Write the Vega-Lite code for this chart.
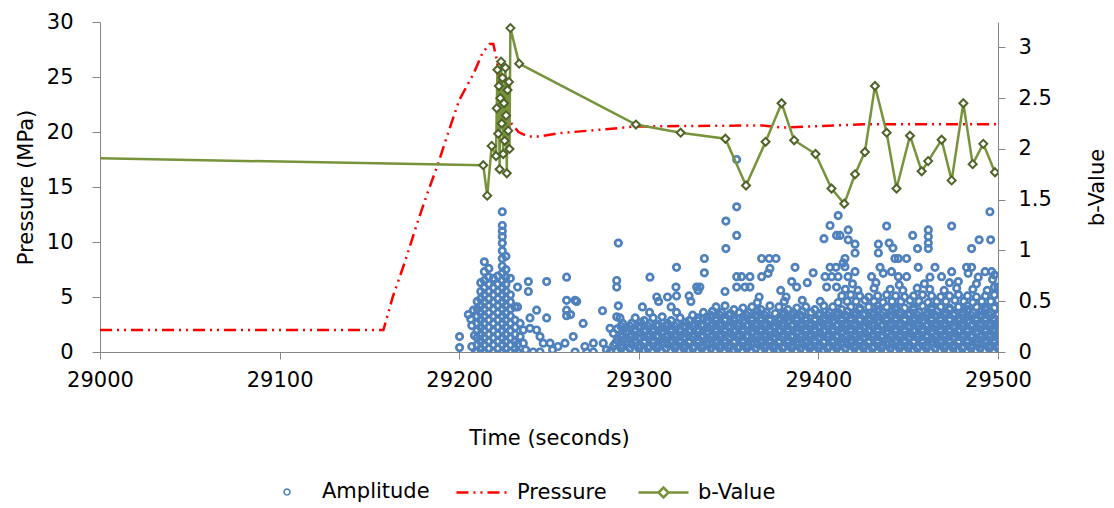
{
"$schema":"https://vega.github.io/schema/vega-lite/v6.json",
"width":898,"height":330,
"autosize":{"type":"none"},
"padding":{"left":100,"top":22,"right":116,"bottom":156},
"background":"white",
"config":{"view":{"stroke":null},"font":"DejaVu Sans",
"axis":{"grid":false,"domainColor":"#868686","tickColor":"#868686","labelColor":"#000000","titleColor":"#000000","labelFontSize":21,"titleFontSize":21,"titleFontWeight":"normal","labelFont":"DejaVu Sans","titleFont":"DejaVu Sans","labelFlush":false,"labelOverlap":false},
"legend":{"labelFontSize":21,"labelFont":"DejaVu Sans","labelColor":"#000000","symbolSize":2500,"labelLimit":0,"direction":"horizontal","orient":"none"}},
"datasets":{
"amp":[
{"t":29200.2,"a":1.4},{"t":29200.2,"a":0.4},{"t":29205.1,"a":3.4},{"t":29206.4,"a":3.0},{"t":29207,"a":2.4},{"t":29207,"a":0.5},{"t":29207.9,"a":3.8},{"t":29208.5,"a":1.5},{"t":29209,"a":0},
{"t":29210,"a":0},{"t":29210,"a":0.65},{"t":29210,"a":1.3},{"t":29210,"a":1.95},{"t":29210,"a":2.6},{"t":29210,"a":3.25},{"t":29210,"a":3.9},{"t":29210,"a":4.6},
{"t":29212,"a":0.3},{"t":29212,"a":0.95},{"t":29212,"a":1.6},{"t":29212,"a":2.25},{"t":29212,"a":2.9},{"t":29212,"a":3.55},{"t":29212,"a":4.2},{"t":29212,"a":4.85},{"t":29212,"a":5.5},{"t":29212,"a":6.3},
{"t":29214,"a":0},{"t":29214,"a":0.65},{"t":29214,"a":1.3},{"t":29214,"a":1.95},{"t":29214,"a":2.6},{"t":29214,"a":3.25},{"t":29214,"a":3.9},{"t":29214,"a":4.55},{"t":29214,"a":5.2},{"t":29214,"a":5.85},{"t":29214,"a":6.5},{"t":29214,"a":7.3},{"t":29214,"a":8.2},
{"t":29216.5,"a":0.3},{"t":29216.5,"a":0.95},{"t":29216.5,"a":1.6},{"t":29216.5,"a":2.25},{"t":29216.5,"a":2.9},{"t":29216.5,"a":3.55},{"t":29216.5,"a":4.2},{"t":29216.5,"a":4.85},{"t":29216.5,"a":5.5},{"t":29216.5,"a":6.15},{"t":29216.5,"a":6.8},{"t":29216.5,"a":7.6},
{"t":29219,"a":0},{"t":29219,"a":0.65},{"t":29219,"a":1.3},{"t":29219,"a":1.95},{"t":29219,"a":2.6},{"t":29219,"a":3.25},{"t":29219,"a":3.9},{"t":29219,"a":4.55},{"t":29219,"a":5.2},{"t":29219,"a":5.85},{"t":29219,"a":6.7},
{"t":29221.5,"a":0.3},{"t":29221.5,"a":0.95},{"t":29221.5,"a":1.6},{"t":29221.5,"a":2.25},{"t":29221.5,"a":2.9},{"t":29221.5,"a":3.55},{"t":29221.5,"a":4.2},{"t":29221.5,"a":4.85},{"t":29221.5,"a":5.5},{"t":29221.5,"a":6.15},{"t":29221.5,"a":6.9},
{"t":29224,"a":0},{"t":29224,"a":0.65},{"t":29224,"a":1.3},{"t":29224,"a":1.95},{"t":29224,"a":2.6},{"t":29224,"a":3.25},{"t":29224,"a":3.9},{"t":29224,"a":4.55},{"t":29224,"a":5.2},{"t":29224,"a":5.85},{"t":29224,"a":6.5},{"t":29224,"a":7.15},{"t":29224,"a":7.8},{"t":29224,"a":8.5},{"t":29224,"a":9.2},{"t":29224,"a":9.9},{"t":29224,"a":10.5},{"t":29224,"a":11.0},{"t":29224,"a":11.5},{"t":29224,"a":12.75},
{"t":29226,"a":0.3},{"t":29226,"a":0.95},{"t":29226,"a":1.6},{"t":29226,"a":2.25},{"t":29226,"a":2.9},{"t":29226,"a":3.55},{"t":29226,"a":4.2},{"t":29226,"a":4.85},{"t":29226,"a":5.5},{"t":29226,"a":6.15},{"t":29226,"a":6.8},{"t":29226,"a":7.5},{"t":29226,"a":8.7},
{"t":29228.5,"a":0},{"t":29228.5,"a":0.65},{"t":29228.5,"a":1.3},{"t":29228.5,"a":1.95},{"t":29228.5,"a":2.6},{"t":29228.5,"a":3.25},{"t":29228.5,"a":3.9},{"t":29228.5,"a":4.55},{"t":29228.5,"a":5.2},{"t":29228.5,"a":6.7},
{"t":29231,"a":0.3},{"t":29231,"a":0.95},{"t":29231,"a":1.6},{"t":29231,"a":2.25},{"t":29231,"a":2.9},{"t":29231,"a":4.1},
{"t":29232.5,"a":0},{"t":29232.5,"a":0.7},{"t":29232.5,"a":5.9},{"t":29232.5,"a":4.1},
{"t":29233.9,"a":2.6},{"t":29233.9,"a":1.4},{"t":29235.7,"a":2.0},{"t":29235.7,"a":0.8},{"t":29237,"a":0.2},{"t":29239.4,"a":3.1},{"t":29239.4,"a":2.15},{"t":29238.5,"a":6.4},{"t":29238.5,"a":5.5},{"t":29241.2,"a":0},{"t":29243.1,"a":3.8},{"t":29243.1,"a":2.0},{"t":29245,"a":1.4},{"t":29245,"a":0},{"t":29246.8,"a":0.8},{"t":29248.7,"a":6.4},{"t":29248.7,"a":3.1},{"t":29250.6,"a":0.8},{"t":29252,"a":0.2},{"t":29255,"a":0.5},{"t":29258.9,"a":0.8},{"t":29259.8,"a":6.8},{"t":29259.8,"a":4.7},{"t":29259.8,"a":3.8},{"t":29259.8,"a":3.3},{"t":29262,"a":3.4},{"t":29263.5,"a":1.4},{"t":29264.5,"a":4.7},{"t":29264.5,"a":0},{"t":29265.4,"a":4.6},{"t":29269,"a":2.6},{"t":29270,"a":0.5},{"t":29271,"a":0},{"t":29274.7,"a":0.8},{"t":29274.7,"a":0},{"t":29279.8,"a":3.75},{"t":29280.2,"a":0.8},{"t":29282,"a":0.2},{"t":29284,"a":0},{"t":29284,"a":2.15},{"t":29285.8,"a":1.7},{"t":29286,"a":0.6},{"t":29287,"a":0.8},{"t":29287.7,"a":6.5},{"t":29287.7,"a":5.9},{"t":29288.6,"a":9.9},{"t":29288.6,"a":4.2},{"t":29287.7,"a":3.2},{"t":29289.5,"a":3.1},
{"t":29288,"a":0.1},{"t":29293,"a":0},{"t":29298,"a":0.1},{"t":29303,"a":0.2},{"t":29308,"a":0.1},{"t":29313,"a":0},{"t":29318,"a":0.1},{"t":29323,"a":0.1},{"t":29328,"a":0.2},{"t":29333,"a":0},{"t":29338,"a":0.1},{"t":29343,"a":0.1},{"t":29348,"a":0},{"t":29353,"a":0.2},{"t":29358,"a":0.1},{"t":29363,"a":0},{"t":29368,"a":0.1},{"t":29373,"a":0.1},{"t":29378,"a":0.2},{"t":29383,"a":0},{"t":29388,"a":0.1},{"t":29393,"a":0.1},{"t":29398,"a":0},{"t":29403,"a":0.2},{"t":29408,"a":0.1},{"t":29413,"a":0},{"t":29418,"a":0.1},{"t":29423,"a":0.1},{"t":29428,"a":0.2},{"t":29433,"a":0},{"t":29438,"a":0.1},{"t":29443,"a":0.1},{"t":29448,"a":0},{"t":29453,"a":0.2},{"t":29458,"a":0.1},{"t":29463,"a":0},{"t":29468,"a":0.1},{"t":29473,"a":0.1},{"t":29478,"a":0.2},{"t":29483,"a":0},{"t":29488,"a":0.1},{"t":29493,"a":0.1},{"t":29498,"a":0},
{"t":29290,"a":0.35},{"t":29295,"a":0.35},{"t":29300,"a":0.35},{"t":29305,"a":0.35},{"t":29310,"a":0.35},{"t":29315,"a":0.35},{"t":29320,"a":0.35},{"t":29325,"a":0.35},{"t":29330,"a":0.35},{"t":29335,"a":0.35},{"t":29340,"a":0.35},{"t":29345,"a":0.35},{"t":29350,"a":0.35},{"t":29355,"a":0.35},{"t":29360,"a":0.35},{"t":29365,"a":0.35},{"t":29370,"a":0.35},{"t":29375,"a":0.35},{"t":29380,"a":0.35},{"t":29385,"a":0.35},{"t":29390,"a":0.35},{"t":29395,"a":0.35},{"t":29400,"a":0.35},{"t":29405,"a":0.35},{"t":29410,"a":0.35},{"t":29415,"a":0.35},{"t":29420,"a":0.35},{"t":29425,"a":0.35},{"t":29430,"a":0.35},{"t":29435,"a":0.35},{"t":29440,"a":0.35},{"t":29445,"a":0.35},{"t":29450,"a":0.35},{"t":29455,"a":0.35},{"t":29460,"a":0.35},{"t":29465,"a":0.35},{"t":29470,"a":0.35},{"t":29475,"a":0.35},{"t":29480,"a":0.35},{"t":29485,"a":0.35},{"t":29490,"a":0.35},{"t":29495,"a":0.35},{"t":29500,"a":0.35},
{"t":29291,"a":0.6},{"t":29296,"a":0.7},{"t":29301,"a":0.6},{"t":29306,"a":0.5},{"t":29311,"a":0.6},{"t":29316,"a":0.7},{"t":29321,"a":0.6},{"t":29326,"a":0.6},{"t":29331,"a":0.5},{"t":29336,"a":0.6},{"t":29341,"a":0.7},{"t":29346,"a":0.6},{"t":29351,"a":0.6},{"t":29356,"a":0.5},{"t":29361,"a":0.6},{"t":29366,"a":0.7},{"t":29371,"a":0.6},{"t":29376,"a":0.6},{"t":29381,"a":0.5},{"t":29386,"a":0.6},{"t":29391,"a":0.7},{"t":29396,"a":0.6},{"t":29401,"a":0.6},{"t":29406,"a":0.5},{"t":29411,"a":0.6},{"t":29416,"a":0.7},{"t":29421,"a":0.6},{"t":29426,"a":0.6},{"t":29431,"a":0.5},{"t":29436,"a":0.6},{"t":29441,"a":0.7},{"t":29446,"a":0.6},{"t":29451,"a":0.6},{"t":29456,"a":0.5},{"t":29461,"a":0.6},{"t":29466,"a":0.7},{"t":29471,"a":0.6},{"t":29476,"a":0.6},{"t":29481,"a":0.5},{"t":29486,"a":0.6},{"t":29491,"a":0.7},{"t":29496,"a":0.6},{"t":29500,"a":0.6},
{"t":29293,"a":0.85},{"t":29298,"a":0.85},{"t":29303,"a":0.85},{"t":29308,"a":0.85},{"t":29313,"a":0.85},{"t":29318,"a":0.85},{"t":29323,"a":0.85},{"t":29328,"a":0.85},{"t":29333,"a":0.85},{"t":29338,"a":0.85},{"t":29343,"a":0.85},{"t":29348,"a":0.85},{"t":29353,"a":0.85},{"t":29358,"a":0.85},{"t":29363,"a":0.85},{"t":29368,"a":0.85},{"t":29373,"a":0.85},{"t":29378,"a":0.85},{"t":29383,"a":0.85},{"t":29388,"a":0.85},{"t":29393,"a":0.85},{"t":29398,"a":0.85},{"t":29403,"a":0.85},{"t":29408,"a":0.85},{"t":29413,"a":0.85},{"t":29418,"a":0.85},{"t":29423,"a":0.85},{"t":29428,"a":0.85},{"t":29433,"a":0.85},{"t":29438,"a":0.85},{"t":29443,"a":0.85},{"t":29448,"a":0.85},{"t":29453,"a":0.85},{"t":29458,"a":0.85},{"t":29463,"a":0.85},{"t":29468,"a":0.85},{"t":29473,"a":0.85},{"t":29478,"a":0.85},{"t":29483,"a":0.85},{"t":29488,"a":0.85},{"t":29493,"a":0.85},{"t":29498,"a":0.85},
{"t":29288,"a":1.1},{"t":29293,"a":1.2},{"t":29298,"a":1.1},{"t":29303,"a":1.0},{"t":29308,"a":1.1},{"t":29313,"a":1.2},{"t":29318,"a":1.1},{"t":29323,"a":1.1},{"t":29328,"a":1.0},{"t":29333,"a":1.1},{"t":29338,"a":1.2},{"t":29343,"a":1.1},{"t":29348,"a":1.1},{"t":29353,"a":1.0},{"t":29358,"a":1.1},{"t":29363,"a":1.2},{"t":29368,"a":1.1},{"t":29373,"a":1.1},{"t":29378,"a":1.0},{"t":29383,"a":1.1},{"t":29388,"a":1.2},{"t":29393,"a":1.1},{"t":29398,"a":1.1},{"t":29403,"a":1.0},{"t":29408,"a":1.1},{"t":29413,"a":1.2},{"t":29418,"a":1.1},{"t":29423,"a":1.1},{"t":29428,"a":1.0},{"t":29433,"a":1.1},{"t":29438,"a":1.2},{"t":29443,"a":1.1},{"t":29448,"a":1.1},{"t":29453,"a":1.0},{"t":29458,"a":1.1},{"t":29463,"a":1.2},{"t":29468,"a":1.1},{"t":29473,"a":1.1},{"t":29478,"a":1.0},{"t":29483,"a":1.1},{"t":29488,"a":1.2},{"t":29493,"a":1.1},{"t":29498,"a":1.1},
{"t":29290,"a":1.35},{"t":29295,"a":1.35},{"t":29300,"a":1.35},{"t":29305,"a":1.35},{"t":29310,"a":1.35},{"t":29315,"a":1.35},{"t":29320,"a":1.35},{"t":29325,"a":1.35},{"t":29330,"a":1.35},{"t":29335,"a":1.35},{"t":29340,"a":1.35},{"t":29345,"a":1.35},{"t":29350,"a":1.35},{"t":29355,"a":1.35},{"t":29360,"a":1.35},{"t":29365,"a":1.35},{"t":29370,"a":1.35},{"t":29375,"a":1.35},{"t":29380,"a":1.35},{"t":29385,"a":1.35},{"t":29390,"a":1.35},{"t":29395,"a":1.35},{"t":29400,"a":1.35},{"t":29405,"a":1.35},{"t":29410,"a":1.35},{"t":29415,"a":1.35},{"t":29420,"a":1.35},{"t":29425,"a":1.35},{"t":29430,"a":1.35},{"t":29435,"a":1.35},{"t":29440,"a":1.35},{"t":29445,"a":1.35},{"t":29450,"a":1.35},{"t":29455,"a":1.35},{"t":29460,"a":1.35},{"t":29465,"a":1.35},{"t":29470,"a":1.35},{"t":29475,"a":1.35},{"t":29480,"a":1.35},{"t":29485,"a":1.35},{"t":29490,"a":1.35},{"t":29495,"a":1.35},{"t":29500,"a":1.35},
{"t":29291,"a":1.6},{"t":29296,"a":1.6},{"t":29301,"a":1.7},{"t":29306,"a":1.6},{"t":29311,"a":1.5},{"t":29316,"a":1.6},{"t":29321,"a":1.6},{"t":29326,"a":1.7},{"t":29331,"a":1.6},{"t":29336,"a":1.5},{"t":29341,"a":1.6},{"t":29346,"a":1.6},{"t":29351,"a":1.7},{"t":29356,"a":1.6},{"t":29361,"a":1.5},{"t":29366,"a":1.6},{"t":29371,"a":1.6},{"t":29376,"a":1.7},{"t":29381,"a":1.6},{"t":29386,"a":1.5},{"t":29391,"a":1.6},{"t":29396,"a":1.6},{"t":29401,"a":1.7},{"t":29406,"a":1.6},{"t":29411,"a":1.5},{"t":29416,"a":1.6},{"t":29421,"a":1.6},{"t":29426,"a":1.7},{"t":29431,"a":1.6},{"t":29436,"a":1.5},{"t":29441,"a":1.6},{"t":29446,"a":1.6},{"t":29451,"a":1.7},{"t":29456,"a":1.6},{"t":29461,"a":1.5},{"t":29466,"a":1.6},{"t":29471,"a":1.6},{"t":29476,"a":1.7},{"t":29481,"a":1.6},{"t":29486,"a":1.5},{"t":29491,"a":1.6},{"t":29496,"a":1.6},{"t":29500,"a":1.7},
{"t":29293,"a":1.85},{"t":29298,"a":1.85},{"t":29303,"a":1.85},{"t":29308,"a":1.85},{"t":29313,"a":1.85},{"t":29318,"a":1.85},{"t":29323,"a":1.85},{"t":29328,"a":1.85},{"t":29333,"a":1.85},{"t":29338,"a":1.85},{"t":29343,"a":1.85},{"t":29348,"a":1.85},{"t":29353,"a":1.85},{"t":29358,"a":1.85},{"t":29363,"a":1.85},{"t":29368,"a":1.85},{"t":29373,"a":1.85},{"t":29378,"a":1.85},{"t":29383,"a":1.85},{"t":29388,"a":1.85},{"t":29393,"a":1.85},{"t":29398,"a":1.85},{"t":29403,"a":1.85},{"t":29408,"a":1.85},{"t":29413,"a":1.85},{"t":29418,"a":1.85},{"t":29423,"a":1.85},{"t":29428,"a":1.85},{"t":29433,"a":1.85},{"t":29438,"a":1.85},{"t":29443,"a":1.85},{"t":29448,"a":1.85},{"t":29453,"a":1.85},{"t":29458,"a":1.85},{"t":29463,"a":1.85},{"t":29468,"a":1.85},{"t":29473,"a":1.85},{"t":29478,"a":1.85},{"t":29483,"a":1.85},{"t":29488,"a":1.85},{"t":29493,"a":1.85},{"t":29498,"a":1.85},
{"t":29288,"a":2.1},{"t":29293,"a":2.2},{"t":29298,"a":2.1},{"t":29303,"a":2.0},{"t":29308,"a":2.1},{"t":29313,"a":2.2},{"t":29318,"a":2.1},{"t":29323,"a":2.1},{"t":29328,"a":2.0},{"t":29333,"a":2.1},{"t":29338,"a":2.2},{"t":29343,"a":2.1},{"t":29348,"a":2.1},{"t":29353,"a":2.0},{"t":29358,"a":2.1},{"t":29363,"a":2.2},{"t":29368,"a":2.1},{"t":29373,"a":2.1},{"t":29378,"a":2.0},{"t":29383,"a":2.1},{"t":29388,"a":2.2},{"t":29393,"a":2.1},{"t":29398,"a":2.1},{"t":29403,"a":2.0},{"t":29408,"a":2.1},{"t":29413,"a":2.2},{"t":29418,"a":2.1},{"t":29423,"a":2.1},{"t":29428,"a":2.0},{"t":29433,"a":2.1},{"t":29438,"a":2.2},{"t":29443,"a":2.1},{"t":29448,"a":2.1},{"t":29453,"a":2.0},{"t":29458,"a":2.1},{"t":29463,"a":2.2},{"t":29468,"a":2.1},{"t":29473,"a":2.1},{"t":29478,"a":2.0},{"t":29483,"a":2.1},{"t":29488,"a":2.2},{"t":29493,"a":2.1},{"t":29498,"a":2.1},
{"t":29290,"a":2.35},{"t":29295,"a":2.35},{"t":29300,"a":2.35},{"t":29305,"a":2.35},{"t":29310,"a":2.35},{"t":29315,"a":2.35},{"t":29320,"a":2.35},{"t":29325,"a":2.35},{"t":29330,"a":2.35},{"t":29335,"a":2.35},{"t":29340,"a":2.35},{"t":29345,"a":2.35},{"t":29350,"a":2.35},{"t":29355,"a":2.35},{"t":29360,"a":2.35},{"t":29365,"a":2.35},{"t":29370,"a":2.35},{"t":29375,"a":2.35},{"t":29380,"a":2.35},{"t":29385,"a":2.35},{"t":29390,"a":2.35},{"t":29395,"a":2.35},{"t":29400,"a":2.35},{"t":29405,"a":2.35},{"t":29410,"a":2.35},{"t":29415,"a":2.35},{"t":29420,"a":2.35},{"t":29425,"a":2.35},{"t":29430,"a":2.35},{"t":29435,"a":2.35},{"t":29440,"a":2.35},{"t":29445,"a":2.35},{"t":29450,"a":2.35},{"t":29455,"a":2.35},{"t":29460,"a":2.35},{"t":29465,"a":2.35},{"t":29470,"a":2.35},{"t":29475,"a":2.35},{"t":29480,"a":2.35},{"t":29485,"a":2.35},{"t":29490,"a":2.35},{"t":29495,"a":2.35},{"t":29500,"a":2.35},
{"t":29291,"a":2.6},{"t":29296,"a":2.6},{"t":29301,"a":2.7},{"t":29306,"a":2.6},{"t":29311,"a":2.5},{"t":29316,"a":2.6},{"t":29321,"a":2.6},{"t":29326,"a":2.7},{"t":29331,"a":2.6},{"t":29336,"a":2.5},{"t":29341,"a":2.6},{"t":29346,"a":2.6},{"t":29351,"a":2.7},{"t":29356,"a":2.6},{"t":29361,"a":2.5},{"t":29366,"a":2.6},{"t":29371,"a":2.6},{"t":29376,"a":2.7},{"t":29381,"a":2.6},{"t":29386,"a":2.5},{"t":29391,"a":2.6},{"t":29396,"a":2.6},{"t":29401,"a":2.7},{"t":29406,"a":2.6},{"t":29411,"a":2.5},{"t":29416,"a":2.6},{"t":29421,"a":2.6},{"t":29426,"a":2.7},{"t":29431,"a":2.6},{"t":29436,"a":2.5},{"t":29441,"a":2.6},{"t":29446,"a":2.6},{"t":29451,"a":2.7},{"t":29456,"a":2.6},{"t":29461,"a":2.5},{"t":29466,"a":2.6},{"t":29471,"a":2.6},{"t":29476,"a":2.7},{"t":29481,"a":2.6},{"t":29486,"a":2.5},{"t":29491,"a":2.6},{"t":29496,"a":2.6},{"t":29500,"a":2.7},
{"t":29303,"a":2.85},{"t":29318,"a":2.85},{"t":29328,"a":2.85},{"t":29333,"a":2.85},{"t":29338,"a":2.85},{"t":29343,"a":2.85},{"t":29348,"a":2.85},{"t":29353,"a":2.85},{"t":29358,"a":2.85},{"t":29363,"a":2.85},{"t":29368,"a":2.85},{"t":29373,"a":2.85},{"t":29378,"a":2.85},{"t":29383,"a":2.85},{"t":29388,"a":2.85},{"t":29393,"a":2.85},{"t":29398,"a":2.85},{"t":29403,"a":2.85},{"t":29408,"a":2.85},{"t":29413,"a":2.85},{"t":29418,"a":2.85},{"t":29423,"a":2.85},{"t":29428,"a":2.85},{"t":29433,"a":2.85},{"t":29438,"a":2.85},{"t":29443,"a":2.85},{"t":29448,"a":2.85},{"t":29453,"a":2.85},{"t":29458,"a":2.85},{"t":29463,"a":2.85},{"t":29468,"a":2.85},{"t":29473,"a":2.85},{"t":29478,"a":2.85},{"t":29483,"a":2.85},{"t":29488,"a":2.85},{"t":29493,"a":2.85},{"t":29498,"a":2.85},
{"t":29298,"a":3.1},{"t":29308,"a":3.1},{"t":29313,"a":3.2},{"t":29323,"a":3.1},{"t":29333,"a":3.1},{"t":29338,"a":3.2},{"t":29343,"a":3.1},{"t":29348,"a":3.0},{"t":29353,"a":3.1},{"t":29358,"a":3.2},{"t":29363,"a":3.1},{"t":29368,"a":3.1},{"t":29373,"a":3.0},{"t":29378,"a":3.1},{"t":29383,"a":3.2},{"t":29388,"a":3.1},{"t":29393,"a":3.1},{"t":29398,"a":3.0},{"t":29403,"a":3.1},{"t":29408,"a":3.2},{"t":29413,"a":3.1},{"t":29418,"a":3.1},{"t":29423,"a":3.0},{"t":29428,"a":3.1},{"t":29433,"a":3.2},{"t":29438,"a":3.1},{"t":29443,"a":3.1},{"t":29448,"a":3.0},{"t":29453,"a":3.1},{"t":29458,"a":3.2},{"t":29463,"a":3.1},{"t":29468,"a":3.1},{"t":29473,"a":3.0},{"t":29478,"a":3.1},{"t":29483,"a":3.2},{"t":29488,"a":3.1},{"t":29493,"a":3.1},{"t":29498,"a":3.0},
{"t":29330,"a":3.35},{"t":29340,"a":3.35},{"t":29345,"a":3.35},{"t":29350,"a":3.35},{"t":29360,"a":3.35},{"t":29365,"a":3.35},{"t":29370,"a":3.35},{"t":29380,"a":3.35},{"t":29385,"a":3.35},{"t":29390,"a":3.35},{"t":29400,"a":3.35},{"t":29405,"a":3.35},{"t":29410,"a":3.35},{"t":29415,"a":3.35},{"t":29420,"a":3.35},{"t":29425,"a":3.35},{"t":29430,"a":3.35},{"t":29435,"a":3.35},{"t":29440,"a":3.35},{"t":29445,"a":3.35},{"t":29450,"a":3.35},{"t":29455,"a":3.35},{"t":29460,"a":3.35},{"t":29465,"a":3.35},{"t":29470,"a":3.35},{"t":29475,"a":3.35},{"t":29480,"a":3.35},{"t":29485,"a":3.35},{"t":29490,"a":3.35},{"t":29495,"a":3.35},{"t":29500,"a":3.35},
{"t":29306,"a":3.6},{"t":29321,"a":3.6},{"t":29336,"a":3.6},{"t":29341,"a":3.7},{"t":29346,"a":3.6},{"t":29351,"a":3.5},{"t":29356,"a":3.6},{"t":29361,"a":3.6},{"t":29366,"a":3.7},{"t":29371,"a":3.6},{"t":29376,"a":3.5},{"t":29381,"a":3.6},{"t":29386,"a":3.6},{"t":29391,"a":3.7},{"t":29396,"a":3.6},{"t":29401,"a":3.5},{"t":29406,"a":3.6},{"t":29411,"a":3.6},{"t":29416,"a":3.7},{"t":29421,"a":3.6},{"t":29426,"a":3.5},{"t":29431,"a":3.6},{"t":29436,"a":3.6},{"t":29441,"a":3.7},{"t":29446,"a":3.6},{"t":29451,"a":3.5},{"t":29456,"a":3.6},{"t":29461,"a":3.6},{"t":29466,"a":3.7},{"t":29471,"a":3.6},{"t":29476,"a":3.5},{"t":29481,"a":3.6},{"t":29486,"a":3.6},{"t":29491,"a":3.7},{"t":29496,"a":3.6},{"t":29500,"a":3.5},
{"t":29353,"a":3.85},{"t":29368,"a":3.85},{"t":29383,"a":3.85},{"t":29398,"a":3.85},{"t":29413,"a":3.85},{"t":29423,"a":3.85},{"t":29433,"a":3.85},{"t":29443,"a":3.85},{"t":29453,"a":3.85},{"t":29463,"a":3.85},{"t":29473,"a":3.85},{"t":29483,"a":3.85},{"t":29493,"a":3.85},
{"t":29302,"a":4.1},{"t":29318,"a":4.1},{"t":29343,"a":4.1},{"t":29348,"a":4.2},{"t":29358,"a":4.0},{"t":29363,"a":4.1},{"t":29373,"a":4.2},{"t":29378,"a":4.1},{"t":29388,"a":4.0},{"t":29393,"a":4.1},{"t":29403,"a":4.2},{"t":29408,"a":4.1},{"t":29418,"a":4.1},{"t":29423,"a":4.0},{"t":29428,"a":4.1},{"t":29433,"a":4.2},{"t":29438,"a":4.1},{"t":29443,"a":4.1},{"t":29448,"a":4.0},{"t":29453,"a":4.1},{"t":29458,"a":4.2},{"t":29463,"a":4.1},{"t":29468,"a":4.1},{"t":29473,"a":4.0},{"t":29478,"a":4.1},{"t":29483,"a":4.2},{"t":29488,"a":4.1},{"t":29493,"a":4.1},{"t":29498,"a":4.0},
{"t":29311,"a":4.6},{"t":29329,"a":4.6},{"t":29366,"a":4.5},{"t":29381,"a":4.6},{"t":29391,"a":4.7},{"t":29401,"a":4.6},{"t":29411,"a":4.5},{"t":29416,"a":4.6},{"t":29421,"a":4.6},{"t":29426,"a":4.7},{"t":29431,"a":4.6},{"t":29436,"a":4.5},{"t":29441,"a":4.6},{"t":29446,"a":4.6},{"t":29451,"a":4.7},{"t":29456,"a":4.6},{"t":29461,"a":4.5},{"t":29466,"a":4.6},{"t":29471,"a":4.6},{"t":29476,"a":4.7},{"t":29481,"a":4.6},{"t":29486,"a":4.5},{"t":29491,"a":4.6},{"t":29496,"a":4.6},{"t":29500,"a":4.7},
{"t":29310,"a":5.0},{"t":29316,"a":5.0},{"t":29321,"a":5.1},{"t":29328,"a":5.1},{"t":29367,"a":5.0},{"t":29382,"a":5.0},{"t":29413,"a":5.1},{"t":29418,"a":5.2},{"t":29423,"a":5.1},{"t":29428,"a":5.0},{"t":29433,"a":5.1},{"t":29438,"a":5.2},{"t":29443,"a":5.1},{"t":29448,"a":5.0},{"t":29453,"a":5.1},{"t":29458,"a":5.2},{"t":29463,"a":5.1},{"t":29468,"a":5.0},{"t":29473,"a":5.1},{"t":29478,"a":5.2},{"t":29483,"a":5.1},{"t":29488,"a":5.0},{"t":29493,"a":5.1},{"t":29498,"a":5.2},
{"t":29333,"a":5.6},{"t":29379,"a":5.6},{"t":29415,"a":5.7},{"t":29422,"a":5.6},{"t":29431,"a":5.8},{"t":29440,"a":5.7},{"t":29447,"a":5.6},{"t":29455,"a":5.8},{"t":29462,"a":5.7},{"t":29470,"a":5.6},{"t":29477,"a":5.8},{"t":29486,"a":5.7},{"t":29494,"a":5.6},{"t":29500,"a":5.9},
{"t":29419,"a":6.2},{"t":29432,"a":6.3},{"t":29445,"a":6.1},{"t":29459,"a":6.2},{"t":29473,"a":6.3},{"t":29488,"a":6.2},{"t":29497,"a":6.6},
{"t":29306.2,"a":6.8},{"t":29321,"a":7.7},{"t":29336.5,"a":8.5},{"t":29336.5,"a":7.2},{"t":29320.7,"a":5.9},{"t":29332.2,"a":5.9},{"t":29334,"a":5.9},
{"t":29354.5,"a":17.5},{"t":29354.5,"a":13.2},{"t":29348.5,"a":11.9},{"t":29354.5,"a":10.6},{"t":29348.5,"a":9.4},
{"t":29368.4,"a":8.5},{"t":29372.6,"a":8.5},{"t":29376.4,"a":8.5},{"t":29373,"a":7.6},{"t":29372,"a":7.15},{"t":29368.4,"a":6.85},
{"t":29354.5,"a":6.85},{"t":29357.2,"a":6.85},{"t":29361.9,"a":6.85},{"t":29354.5,"a":5.9},{"t":29359.1,"a":5.9},{"t":29361.9,"a":5.9},{"t":29348,"a":5.5},
{"t":29387,"a":7.7},{"t":29385.1,"a":6.4},{"t":29387.9,"a":5.9},{"t":29397.1,"a":7.2},{"t":29393.8,"a":6.3},
{"t":29411,"a":12.4},{"t":29406.5,"a":11.5},{"t":29410.1,"a":10.6},{"t":29403.1,"a":10.3},{"t":29414.8,"a":8.5},{"t":29413.8,"a":8.1},{"t":29406.5,"a":7.7},{"t":29409.8,"a":7.7},{"t":29403.7,"a":6.85},{"t":29407.4,"a":6.85},{"t":29411,"a":6.85},{"t":29404.6,"a":5.9},{"t":29410.1,"a":5.9},{"t":29416.6,"a":11.1},{"t":29416.6,"a":10.2},
{"t":29495.5,"a":12.75},{"t":29474.2,"a":11.45},{"t":29438,"a":11.45},{"t":29420.4,"a":9.8},{"t":29420.4,"a":9.0},{"t":29461.2,"a":11.1},{"t":29461.2,"a":10.5},{"t":29461.2,"a":9.9},{"t":29461.2,"a":9.4},{"t":29452.5,"a":10.6},{"t":29455.2,"a":9.4},{"t":29439.4,"a":9.9},{"t":29441.5,"a":9.45},{"t":29442.6,"a":8.5},{"t":29444.5,"a":8.5},{"t":29449.1,"a":8.5},{"t":29433.4,"a":9.8},{"t":29433.4,"a":9.0},{"t":29489.5,"a":10.2},{"t":29485.3,"a":9.4},{"t":29495.9,"a":10.2},{"t":29414.8,"a":7.75},{"t":29412,"a":10.6},{"t":29434.3,"a":7.7},{"t":29455.6,"a":7.7},{"t":29464.9,"a":7.7},{"t":29482.5,"a":7.7},{"t":29485.3,"a":7.7},{"t":29492.8,"a":7.3},{"t":29496.5,"a":7.3},{"t":29420.4,"a":7.3},{"t":29416.5,"a":6.85},{"t":29429.6,"a":6.85},{"t":29436.1,"a":7.15},{"t":29440.7,"a":7.3},{"t":29444.5,"a":6.85},{"t":29449.1,"a":6.85},{"t":29462.1,"a":6.8},{"t":29468.6,"a":6.85},{"t":29474.2,"a":7.3},{"t":29477.9,"a":6.4},{"t":29483.4,"a":7.15},{"t":29489,"a":6.8},{"t":29498,"a":7.0},{"t":29498,"a":5.9}
],
"pres":[
{"t":29000,"p":2.0},{"t":29157.8,"p":2.0},{"t":29163,"p":5.0},{"t":29170,"p":8.3},{"t":29176,"p":11.4},{"t":29182,"p":14.3},{"t":29188,"p":17.0},{"t":29194,"p":20.0},{"t":29200,"p":22.9},{"t":29208,"p":25.3},{"t":29213,"p":27.2},{"t":29217,"p":28.0},{"t":29219,"p":28.0},{"t":29221,"p":26.5},{"t":29223,"p":24.0},{"t":29225,"p":22.0},{"t":29228,"p":21.0},{"t":29233,"p":20.0},{"t":29238,"p":19.6},{"t":29245,"p":19.6},{"t":29256,"p":19.9},{"t":29278,"p":20.2},{"t":29298,"p":20.5},{"t":29369,"p":20.6},{"t":29380,"p":20.4},{"t":29394,"p":20.5},{"t":29425,"p":20.7},{"t":29500,"p":20.7}
],
"bval":[
{"t":28800,"b":1.97},{"t":29213.4,"b":1.84},{"t":29215.6,"b":1.54},{"t":29218.1,"b":2.03},{"t":29220.5,"b":1.93},{"t":29220.9,"b":2.40},{"t":29221.3,"b":2.78},{"t":29221.7,"b":2.15},{"t":29222.1,"b":2.62},{"t":29222.5,"b":1.80},{"t":29222.9,"b":2.50},{"t":29223.3,"b":2.86},{"t":29223.7,"b":2.25},{"t":29224.1,"b":2.70},{"t":29224.5,"b":1.95},{"t":29224.9,"b":2.45},{"t":29225.3,"b":2.08},{"t":29225.7,"b":2.80},{"t":29226.1,"b":2.33},{"t":29226.5,"b":1.76},{"t":29226.9,"b":2.58},{"t":29227.3,"b":2.18},{"t":29227.7,"b":2.66},{"t":29228.0,"b":2.00},{"t":29228.5,"b":3.19},{"t":29233.4,"b":2.84},{"t":29298.4,"b":2.24},{"t":29323.3,"b":2.16},{"t":29348.2,"b":2.10},{"t":29359.7,"b":1.64},{"t":29370.6,"b":2.07},{"t":29379.5,"b":2.45},{"t":29386.5,"b":2.085},{"t":29398.4,"b":1.95},{"t":29407.3,"b":1.61},{"t":29414.4,"b":1.46},{"t":29420.4,"b":1.75},{"t":29425.9,"b":1.97},{"t":29431.5,"b":2.62},{"t":29438.0,"b":2.16},{"t":29443.5,"b":1.61},{"t":29451.0,"b":2.13},{"t":29457.5,"b":1.78},{"t":29461.1,"b":1.88},{"t":29468.6,"b":2.09},{"t":29474.2,"b":1.69},{"t":29480.7,"b":2.45},{"t":29485.9,"b":1.85},{"t":29491.8,"b":2.05},{"t":29498.3,"b":1.77}
]},
"encoding":{"x":{"field":"t","type":"quantitative","scale":{"domain":[29000,29500],"nice":false,"zero":false},
"axis":{"values":[29000,29100,29200,29300,29400,29500],"format":"d","title":"Time (seconds)","tickSize":7,"labelPadding":10,"titlePadding":37}}},
"layer":[
{"layer":[
{"data":{"name":"amp"},"mark":{"type":"point","shape":"circle","filled":false,"size":42,"strokeWidth":2.7,"opacity":1,"clip":true},
"encoding":{"y":{"field":"a","type":"quantitative","scale":{"domain":[0,30],"nice":false},"axis":{"orient":"left","values":[0,5,10,15,20,25,30],"format":"d","title":"Pressure (MPa)","tickSize":8,"labelPadding":19,"titlePadding":10}},
"color":{"datum":"Amplitude","type":"nominal","scale":{"domain":["Amplitude"],"range":["#4F81BD"]},
"legend":{"orient":"none","legendX":161,"legendY":444,"title":null,"symbolSize":2500,"symbolStrokeWidth":1.5,"labelOffset":9,
"symbolType":"M0.12,0L0.104,0.06L0.06,0.104L0,0.12L-0.06,0.104L-0.104,0.06L-0.12,0L-0.104,-0.06L-0.06,-0.104L0,-0.12L0.06,-0.104L0.104,-0.06Z"}}}},
{"data":{"name":"pres"},"mark":{"type":"line","strokeWidth":2.5,"strokeDash":[12,5,2,5,2,5],"clip":true},
"encoding":{"y":{"field":"p","type":"quantitative","scale":{"domain":[0,30],"nice":false},"axis":{"orient":"left","values":[0,5,10,15,20,25,30],"format":"d","title":"Pressure (MPa)","tickSize":8,"labelPadding":19,"titlePadding":10}},
"stroke":{"datum":"Pressure","type":"nominal","scale":{"domain":["Pressure"],"range":["#FF0000"]},
"legend":{"orient":"none","legendX":355,"legendY":444,"title":null,"symbolSize":2500,"symbolStrokeWidth":2.5,"labelOffset":9,"symbolType":"M-1,0L1,0","symbolDash":[12,5,2,5,2,5]}}}}
]},
{"layer":[
{"data":{"name":"bval"},"mark":{"type":"line","stroke":"#77933C","strokeWidth":2.5,"clip":true},
"encoding":{"y":{"field":"b","type":"quantitative","scale":{"domain":[0,3.25],"nice":false},"axis":{"orient":"right","values":[0,0.5,1,1.5,2,2.5,3],"format":"~g","title":"b-Value","titleAngle":-90,"titleBaseline":"top","tickSize":7,"labelPadding":13,"titlePadding":35}}}},
{"data":{"name":"bval"},"mark":{"type":"point","shape":"diamond","filled":true,"stroke":"#4F6228","strokeWidth":2,"size":64,"opacity":1,"clip":true},
"encoding":{"y":{"field":"b","type":"quantitative","scale":{"domain":[0,3.25],"nice":false},"axis":{"orient":"right","values":[0,0.5,1,1.5,2,2.5,3],"format":"~g","title":"b-Value","titleAngle":-90,"titleBaseline":"top","tickSize":7,"labelPadding":13,"titlePadding":35}},
"fill":{"datum":"b-Value","type":"nominal","scale":{"domain":["b-Value"],"range":["#FFFFFF"]},
"legend":{"orient":"none","legendX":537,"legendY":444,"title":null,"symbolSize":2500,"symbolStrokeWidth":2.5,"symbolStrokeColor":"#77933C","labelOffset":8,"symbolType":"M-1,0L-0.2,0M0.2,0L1,0M-0.2,0L0,-0.2L0.2,0L0,0.2Z"}}}}
]}
],
"resolve":{"scale":{"y":"independent"}}
}
